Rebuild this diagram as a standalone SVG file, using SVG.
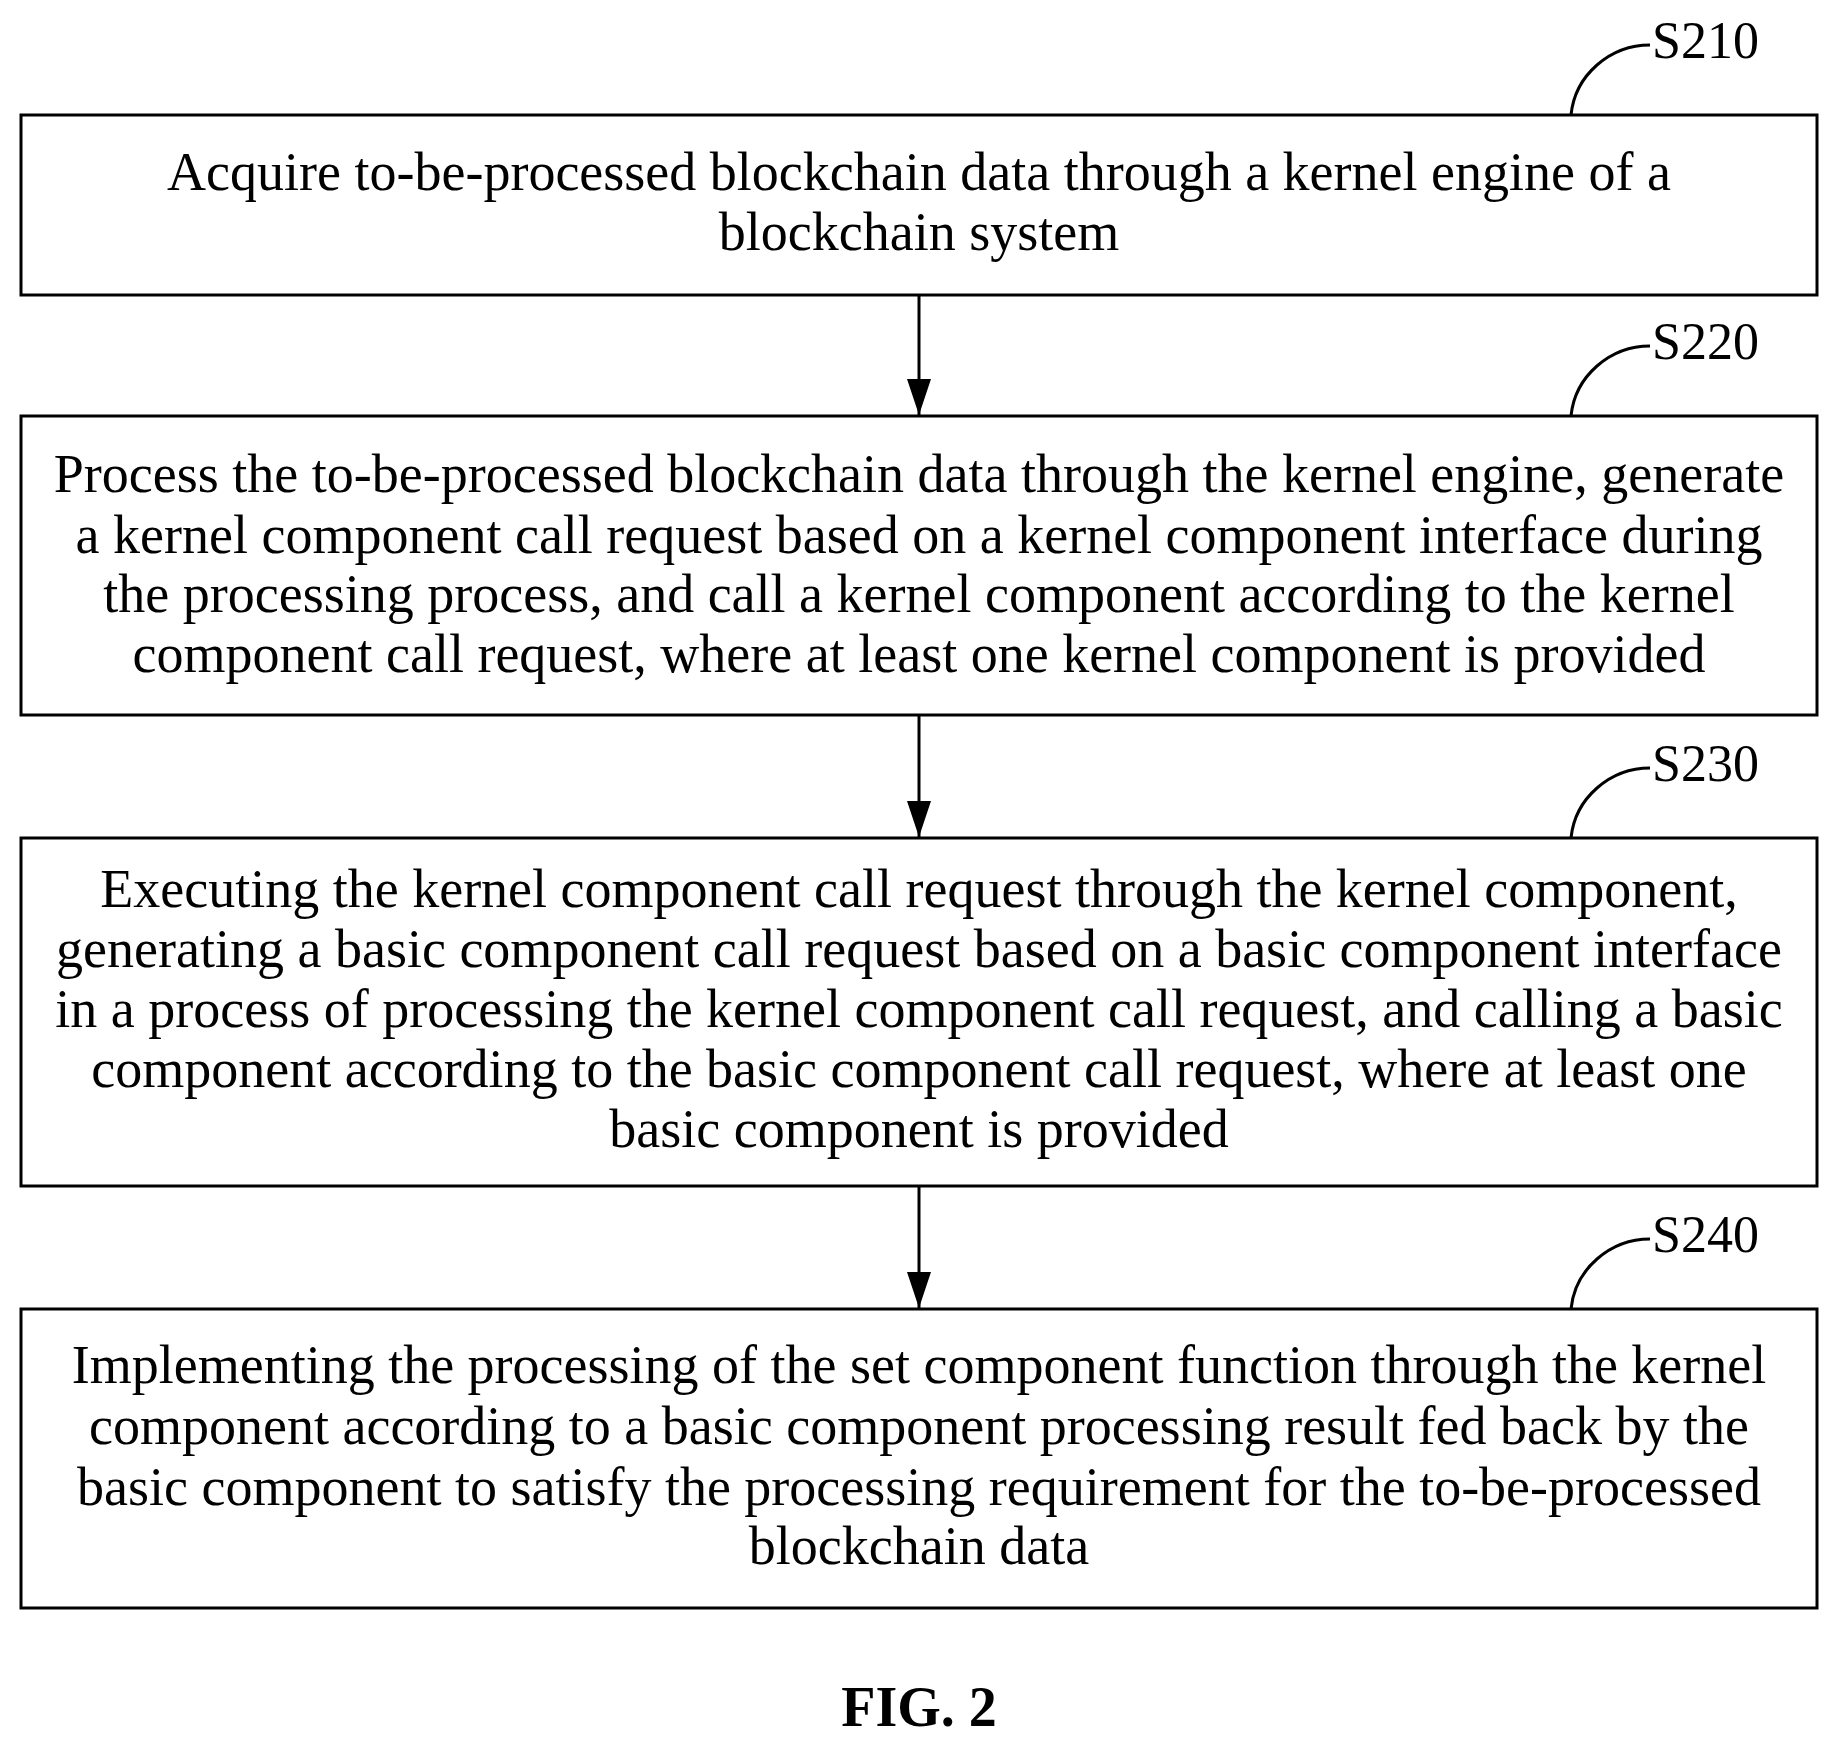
<svg xmlns="http://www.w3.org/2000/svg" width="1838" height="1750" viewBox="0 0 1838 1750">
<defs>
<style>
.box{fill:#fff;stroke:#000;stroke-width:3}
.t{font-family:"Liberation Serif",serif;font-size:54px;text-anchor:middle;fill:#000}
.lbl{font-family:"Liberation Serif",serif;font-size:52px;fill:#000}
.ln{fill:none;stroke:#000;stroke-width:3}
</style>
<marker id="ah" markerWidth="36" markerHeight="24" refX="36" refY="12" orient="auto" markerUnits="userSpaceOnUse" viewBox="0 0 36 24"><path d="M0,0 L36,12 L0,24 z" fill="#000"/></marker>
</defs>
<rect width="1838" height="1750" fill="#fff"/>
<g id="connectors">
<line class="ln" x1="919" y1="296" x2="919" y2="415" marker-end="url(#ah)"/>
<line class="ln" x1="919" y1="716" x2="919" y2="837" marker-end="url(#ah)"/>
<line class="ln" x1="919" y1="1187" x2="919" y2="1308" marker-end="url(#ah)"/>
</g>
<g id="S210">
<rect class="box" x="21" y="115" width="1796" height="180"/>
<path class="ln" d="M1571,115 C1575,75 1610,45 1650,45"/>
<text class="lbl" x="1652" y="58">S210</text>
<text class="t" x="919" y="190">Acquire to-be-processed blockchain data through a kernel engine of a</text>
<text class="t" x="919" y="250">blockchain system</text>
</g>
<g id="S220">
<rect class="box" x="21" y="416" width="1796" height="299"/>
<path class="ln" d="M1571,416 C1575,376 1610,346 1650,346"/>
<text class="lbl" x="1652" y="359">S220</text>
<text class="t" x="919" y="492">Process the to-be-processed blockchain data through the kernel engine, generate</text>
<text class="t" x="919" y="553">a kernel component call request based on a kernel component interface during</text>
<text class="t" x="919" y="612">the processing process, and call a kernel component according to the kernel</text>
<text class="t" x="919" y="672">component call request, where at least one kernel component is provided</text>
</g>
<g id="S230">
<rect class="box" x="21" y="838" width="1796" height="348"/>
<path class="ln" d="M1571,838 C1575,798 1610,768 1650,768"/>
<text class="lbl" x="1652" y="781">S230</text>
<text class="t" x="919" y="907">Executing the kernel component call request through the kernel component,</text>
<text class="t" x="919" y="967">generating a basic component call request based on a basic component interface</text>
<text class="t" x="919" y="1027">in a process of processing the kernel component call request, and calling a basic</text>
<text class="t" x="919" y="1087">component according to the basic component call request, where at least one</text>
<text class="t" x="919" y="1147">basic component is provided</text>
</g>
<g id="S240">
<rect class="box" x="21" y="1309" width="1796" height="299"/>
<path class="ln" d="M1571,1309 C1575,1269 1610,1239 1650,1239"/>
<text class="lbl" x="1652" y="1252">S240</text>
<text class="t" x="919" y="1383">Implementing the processing of the set component function through the kernel</text>
<text class="t" x="919" y="1444">component according to a basic component processing result fed back by the</text>
<text class="t" x="919" y="1505">basic component to satisfy the processing requirement for the to-be-processed</text>
<text class="t" x="919" y="1564">blockchain data</text>
</g>
<text x="919" y="1726" font-family="Liberation Serif,serif" font-size="56" font-weight="bold" text-anchor="middle">FIG. 2</text>
</svg>
